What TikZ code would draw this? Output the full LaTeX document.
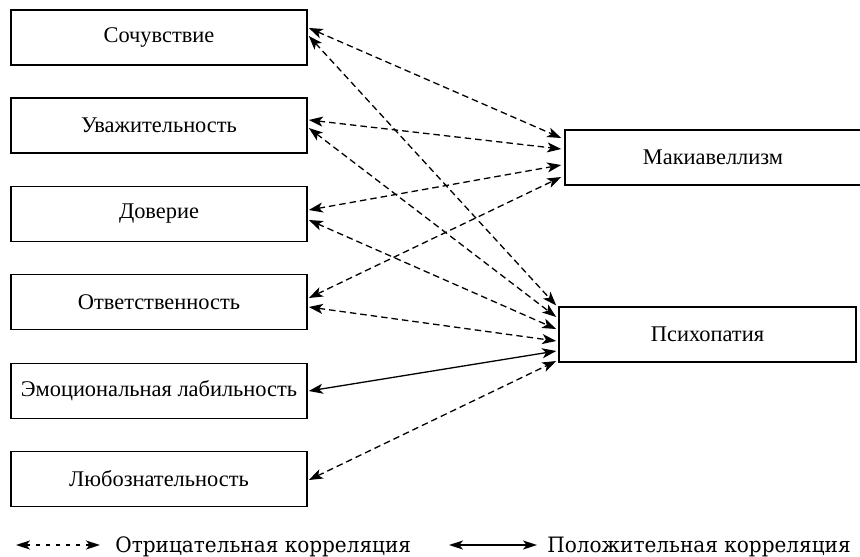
\documentclass[tikz,border=0pt]{standalone}
\usepackage{fontspec}
\setmainfont{Liberation Serif}
\newfontfamily\legfont[FakeStretch=0.945]{DejaVu Serif}
\usetikzlibrary{arrows.meta,calc}
\begin{document}
\begin{tikzpicture}[x=0.5pt,y=-0.5pt,
  box/.style={draw, line width=0.8pt, minimum height=27.5pt, inner sep=0pt,
    font=\fontsize{11.2}{13}\selectfont},
  link/.style={line width=0.65pt,
    {Stealth[length=7pt,width=5pt,inset=1.8pt]}-{Stealth[length=7pt,width=5pt,inset=1.8pt]}},
  neglink/.style={link, dash pattern=on 3.25pt off 2pt},
  poslink/.style={link},
  legneg/.style={line width=0.65pt, dash pattern=on 2.2pt off 2.8pt,
    {Stealth[length=7pt,width=4.5pt,inset=1.8pt]}-{Stealth[length=7pt,width=4.5pt,inset=1.8pt]}},
  legpos/.style={line width=0.65pt,
    {Stealth[length=7pt,width=4.5pt,inset=1.8pt]}-{Stealth[length=7pt,width=4.5pt,inset=1.8pt]}},
  legtext/.style={anchor=base west, inner sep=0pt, font=\legfont\fontsize{10.6}{12}\selectfont}
]
\useasboundingbox (0,0) rectangle (860,556);

\node[box, minimum width=148pt] (s) at (159,37.5) {Сочувствие};
\node[box, minimum width=148pt] (u) at (159,125.5) {Уважительность};
\node[box, minimum width=148pt] (d) at (159,214) {Доверие};
\node[box, minimum width=148pt] (o) at (159,302) {Ответственность};
\node[box, minimum width=148pt] (e) at (159,391) {Эмоциональная лабильность};
\node[box, minimum width=148pt] (l) at (159,479) {Любознательность};

\node[box, minimum width=148pt] (mak) at (713,157.5) {Макиавеллизм};
\node[box, minimum width=148.5pt] (psy) at (707.5,334.5) {Психопатия};

\draw[neglink] ($(s.east)+(1,-9.5)$) -- ($(mak.west)+(-3,-19.5)$);
\draw[neglink] ($(s.east)+(1,-1.5)$) -- ($(psy.west)+(-2,-29)$);
\draw[neglink] ($(u.east)+(1,-5.5)$) -- ($(mak.west)+(-3,-8.5)$);
\draw[neglink] ($(u.east)+(1,2.5)$) -- ($(psy.west)+(-2,-17.5)$);
\draw[neglink] ($(d.east)+(1,-4)$) -- ($(mak.west)+(-3,7.5)$);
\draw[neglink] ($(d.east)+(1,6)$) -- ($(psy.west)+(-2,-5.5)$);
\draw[neglink] ($(o.east)+(1,-4)$) -- ($(mak.west)+(-3,19.5)$);
\draw[neglink] ($(o.east)+(1,5)$) -- ($(psy.west)+(-2,6.5)$);
\draw[poslink] ($(e.east)+(1,0)$) -- ($(psy.west)+(-2,16.5)$);
\draw[neglink] ($(l.east)+(1,1)$) -- ($(psy.west)+(-2,26.5)$);

\coordinate (n1) at (16,545);
\coordinate (n2) at (100,545);
\draw[legneg] (n1) -- (n2);
\node[legtext] (ntext) at (115,552) {Отрицательная корреляция};

\coordinate (p1) at (449,545);
\coordinate (p2) at (537,545);
\draw[legpos] (p1) -- (p2);
\node[legtext] (ptext) at (547,552) {Положительная корреляция};
\end{tikzpicture}
\end{document}
